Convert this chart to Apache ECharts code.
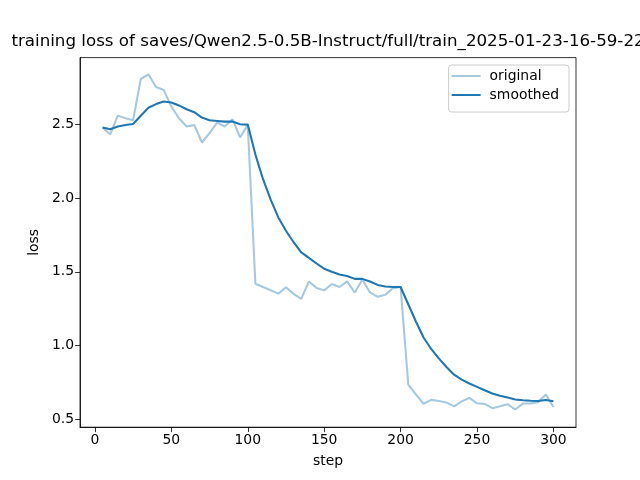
<!DOCTYPE html>
<html>
<head>
<meta charset="utf-8">
<script src="https://cdn.jsdelivr.net/npm/echarts@6/dist/echarts.min.js"></script>
<style>html,body{margin:0;padding:0;background:#fff}#chart{width:640px;height:480px}</style>
</head>
<body>
<div id="chart"></div>
<script>
var steps = [5,10,15,20,25,30,35,40,45,50,55,60,65,70,75,80,85,90,95,100,
  105,110,115,120,125,130,135,140,145,150,155,160,165,170,175,180,185,190,195,200,
  205,210,215,220,225,230,235,240,245,250,255,260,265,270,275,280,285,290,295,300];
var original = [2.477,2.43,2.558,2.54,2.527,2.806,2.838,2.752,2.732,2.62,
  2.54,2.484,2.495,2.376,2.44,2.51,2.484,2.534,2.41,2.495,
  1.419,1.397,1.375,1.352,1.394,1.351,1.316,1.434,1.39,1.374,
  1.417,1.397,1.435,1.359,1.447,1.36,1.33,1.344,1.389,1.397,
  0.736,0.67,0.606,0.632,0.625,0.615,0.588,0.622,0.645,0.609,
  0.605,0.576,0.589,0.603,0.567,0.607,0.608,0.617,0.668,0.584];
var smoothed = [2.477,2.466,2.484,2.494,2.501,2.557,2.611,2.636,2.653,2.647,
  2.627,2.601,2.581,2.545,2.527,2.522,2.517,2.518,2.5,2.497,
  2.294,2.127,1.989,1.868,1.778,1.7,1.632,1.594,1.556,1.521,
  1.5,1.482,1.472,1.452,1.452,1.434,1.411,1.4,1.397,1.397,
  1.28,1.163,1.055,0.977,0.913,0.855,0.803,0.769,0.743,0.72,
  0.697,0.675,0.66,0.648,0.635,0.63,0.626,0.625,0.631,0.623];
var xTicks = [0,50,100,150,200,250,300];
var yTicks = [0.5,1.0,1.5,2.0,2.5];
var titleText = 'training loss of saves/Qwen2.5-0.5B-Instruct/full/train_2025-01-23-16-59-22';

function pairs(xs, ys){ return xs.map(function(x,i){ return [x, ys[i]]; }); }

var FONT = 'DejaVu Sans';
var chart = echarts.init(document.getElementById('chart'), null, {renderer:'canvas'});
chart.setOption({
  animation: false,
  backgroundColor: '#ffffff',
  title: {
    text: titleText,
    left: 328, top: 33, textAlign: 'center',
    padding: 0,
    textStyle: {fontFamily: FONT, fontSize: 16.7, fontWeight: 'normal', color: '#000'}
  },
  grid: {left: 80, right: 64, top: 57.6, bottom: 52.8, show: true, borderColor: '#000', borderWidth: 0.8, backgroundColor: 'transparent'},
  legend: {
    orient: 'vertical', right: 71, top: 65,
    itemWidth: 29, itemHeight: 2, itemGap: 5,
    icon: 'rect',
    padding: [4, 10, 10, 3],
    borderColor: '#cccccc', borderWidth: 1, borderRadius: 3,
    backgroundColor: 'rgba(255,255,255,0.8)',
    textStyle: {fontFamily: FONT, fontSize: 13.9, color: '#000', padding: [0,0,0,4]},
    data: ['original', 'smoothed']
  },
  xAxis: {
    type: 'value', min: -9.75, max: 314.75,
    name: 'step', nameLocation: 'middle', nameGap: 27,
    nameTextStyle: {fontFamily: FONT, fontSize: 13.9, color: '#000'},
    axisLine: {show: true, onZero: false, lineStyle: {color: '#000', width: 0.8}},
    axisTick: {show: true, inside: false, length: 4.9, lineStyle: {color: '#000', width: 0.8}, customValues: xTicks},
    axisLabel: {fontFamily: FONT, fontSize: 13.9, color: '#000', margin: 6, customValues: xTicks},
    splitLine: {show: false}
  },
  yAxis: {
    type: 'value', min: 0.447, max: 2.951,
    name: 'loss', nameLocation: 'middle', nameGap: 37,
    nameTextStyle: {fontFamily: FONT, fontSize: 13.9, color: '#000'},
    axisLine: {show: true, onZero: false, lineStyle: {color: '#000', width: 0.8}},
    axisTick: {show: true, inside: false, length: 4.9, lineStyle: {color: '#000', width: 0.8}, customValues: yTicks},
    axisLabel: {fontFamily: FONT, fontSize: 13.9, color: '#000', margin: 6, customValues: yTicks,
      formatter: function(v){ return v.toFixed(1); }},
    splitLine: {show: false}
  },
  series: [
    {name: 'original', type: 'line', data: pairs(steps, original), symbol: 'none', showSymbol: false,
      lineStyle: {color: '#a5c9e1', width: 2.08}, itemStyle: {color: '#a5c9e1'}, z: 2},
    {name: 'smoothed', type: 'line', data: pairs(steps, smoothed), symbol: 'none', showSymbol: false,
      lineStyle: {color: '#1f77b4', width: 2.08}, itemStyle: {color: '#1f77b4'}, z: 3}
  ]
});
</script>
</body>
</html>
